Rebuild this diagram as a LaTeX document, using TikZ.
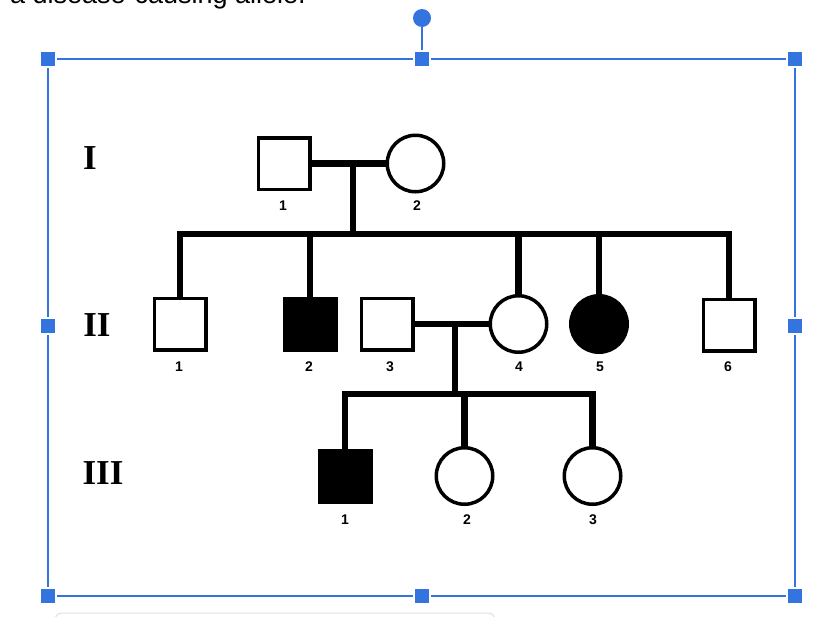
\documentclass[tikz,border=0pt]{standalone}
\usepackage{fontspec}
\setmainfont{Liberation Serif}
\newfontfamily\labfont{Liberation Sans}
\definecolor{gblue}{RGB}{52,116,222}
\begin{document}
\begin{tikzpicture}[x=1pt,y=-1pt,
  male/.style={draw,line width=3.5pt,minimum size=51.5pt,inner sep=0pt,rectangle,fill=white},
  female/.style={draw,line width=3.5pt,minimum size=56.5pt,inner sep=0pt,circle,fill=white},
  aff/.style={fill=black},
  link/.style={line width=6.5pt},
  num/.style={font=\labfont\bfseries\fontsize{14}{14}\selectfont,anchor=base,inner sep=0pt},
  gen/.style={font=\bfseries\fontsize{35}{35}\selectfont,anchor=base,inner sep=0pt},
  handle/.style={rectangle,fill=gblue,draw=white,line width=2.5pt,minimum size=16pt,inner sep=0pt},
  frameline/.style={gblue,line width=2pt}]
\useasboundingbox (0,0) rectangle (834,616);
\fill[white] (0,0) rectangle (834,616);

% cut-off text at the top
\node[anchor=base east,inner sep=0pt,font=\labfont\fontsize{27}{27}\selectfont] (toptext) at (306,3.5) {a disease-causing allele.};

% faint panel at bottom
\draw[black!12,line width=1pt,rounded corners=7pt] (55,613) rectangle (495,640);

% selection frame
\draw[frameline] (48,59) rectangle (795,596);
\node[circle,fill=gblue,minimum size=18pt,inner sep=0pt] (rot) at (422,18) {};
\node[handle] (htop) at (422,59) {};
\draw[gblue,line width=2pt] (rot) -- (htop.north);
\node[handle] (htl) at (48,59) {};
\node[handle] (htr) at (795,59) {};
\node[handle] (hml) at (48,326) {};
\node[handle] (hmr) at (795,326) {};
\node[handle] (hbl) at (48,596) {};
\node[handle] (hbm) at (422,596) {};
\node[handle] (hbr) at (795,596) {};

% generation labels
\node[gen] (gI) at (90,169) {I};
\node[gen] (gII) at (97,336) {II};
\node[gen] (gIII) at (103,484) {III};

% coordinates
\coordinate (m1) at (353,163.5);
\coordinate (s1) at (353,234);
\coordinate (m2) at (455,324);
\coordinate (s2) at (455,394);

% generation I
\node[male] (I1) at (284,163.5) {};
\node[female] (I2) at (415.5,163.5) {};

% generation II
\node[male] (II1) at (180,324) {};
\node[male,aff] (II2) at (310,324) {};
\node[male] (II3) at (387,324) {};
\node[female] (II4) at (518.5,324) {};
\node[female,aff] (II5) at (599,324) {};
\node[male] (II6) at (729,325) {};

% generation III
\node[male,aff] (III1) at (345,476) {};
\node[female] (III2) at (464.5,476) {};
\node[female] (III3) at (592.5,476) {};

% connectors gen I
\draw[link] (I1.east) -- (I2.west);
\draw[link] (m1) -- (s1);
\draw[link] (II1.north) |- (s1) -| (II6.north);
\draw[link] (II2.north) -- (II2.north |- s1);
\draw[link] (II4.north) -- (II4.north |- s1);
\draw[link] (II5.north) -- (II5.north |- s1);

% connectors gen II
\draw[link] (II3.east) -- (II4.west);
\draw[link] (m2) -- (s2);
\draw[link] (III1.north) |- (s2) -| (III3.north);
\draw[link] (III2.north) -- (III2.north |- s2);

% number labels
\node[num] (lI1) at (283,210) {1};
\node[num] (lI2) at (417,210) {2};
\node[num] (lII1) at (179,371) {1};
\node[num] (lII2) at (309,371) {2};
\node[num] (lII3) at (390,371) {3};
\node[num] (lII4) at (519,371) {4};
\node[num] (lII5) at (600,371) {5};
\node[num] (lII6) at (728,371) {6};
\node[num] (lIII1) at (345,524) {1};
\node[num] (lIII2) at (467,524) {2};
\node[num] (lIII3) at (593,524) {3};
\end{tikzpicture}
\end{document}
